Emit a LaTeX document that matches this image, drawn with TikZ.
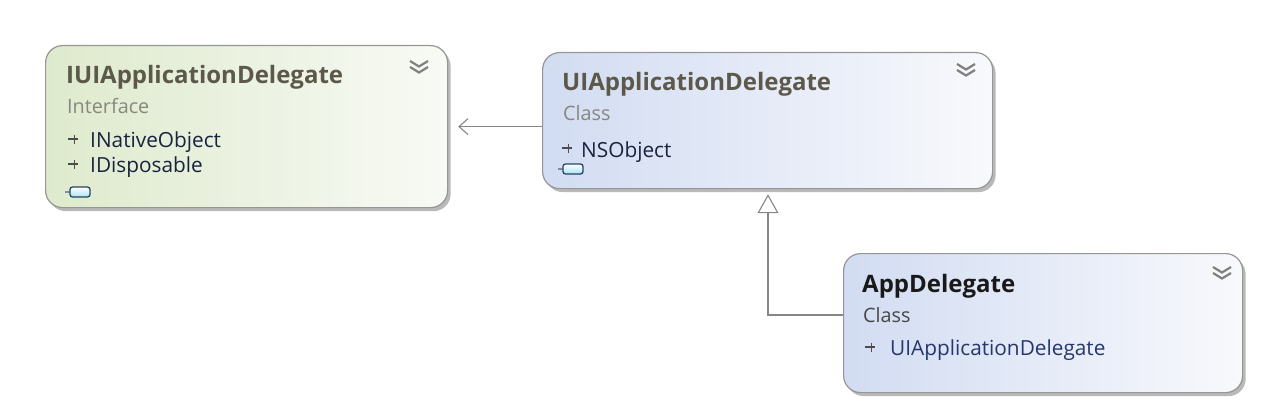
\documentclass[tikz,border=0pt]{standalone}
\usepackage{fontspec}
\setmainfont{Open Sans}
\usetikzlibrary{arrows.meta,shadows}
\definecolor{bordergray}{RGB}{150,150,150}
\definecolor{linegray}{RGB}{135,135,135}
\definecolor{titlegray}{RGB}{92,88,74}
\definecolor{kindgray}{RGB}{135,135,125}
\definecolor{membernavy}{RGB}{25,35,62}
\definecolor{appmember}{RGB}{38,55,110}
\definecolor{greenL}{RGB}{222,234,205}
\definecolor{greenR}{RGB}{248,250,245}
\definecolor{blueL}{RGB}{210,220,242}
\definecolor{blueR}{RGB}{248,249,252}
\definecolor{iconnavy}{RGB}{40,68,100}
\begin{document}
\begin{tikzpicture}[x=1pt,y=-1pt,
  box/.style={draw=bordergray, line width=1.2pt, rounded corners=17pt, inner sep=0pt, anchor=north west,
    drop shadow={shadow xshift=3pt, shadow yshift=-3.5pt, opacity=0.5, fill=black!55}},
  greenbox/.style={box, left color=greenL, right color=greenR},
  bluebox/.style={box, left color=blueL, right color=blueR},
  titletext/.style={anchor=base west, inner sep=0pt, font=\fontsize{24}{28}\selectfont\bfseries, text=titlegray},
  kindtext/.style={anchor=base west, inner sep=0pt, font=\fontsize{19.8}{23}\selectfont, text=kindgray},
  membertext/.style={anchor=base west, inner sep=0pt, font=\fontsize{20.8}{24}\selectfont, text=membernavy},
  conn/.style={draw=linegray, line width=1.1pt},
  bullet/.pic={\draw[line width=1.3pt, black!70] (0,0)--(10,0); \draw[line width=1.3pt, black!70] (6.5,-4.5)--(6.5,4.5);},
  icon/.pic={\draw[line width=1.2pt, iconnavy!60] (0,0)--(5,0);
    \draw[line width=1.3pt, draw=iconnavy, top color=white, bottom color=blueL!80!cyan, rounded corners=2.5pt] (5,-5) rectangle (25,5);},
  chevron/.pic={\draw[line width=2.2pt, black!50] (-9,-7)--(0,-1.5)--(9,-7) (-9,-1)--(0,4.5)--(9,-1);}
]
\useasboundingbox (0,0) rectangle (1287,404);

% boxes
\node[greenbox, minimum width=402pt, minimum height=162pt] (iui) at (45,45) {};
\node[bluebox, minimum width=450pt, minimum height=136pt] (ui) at (542,52) {};
\node[bluebox, minimum width=399pt, minimum height=139pt] (app) at (843,253) {};

% IUIApplicationDelegate
\node[titletext] (iuiT) at (66,83) {IUIApplicationDelegate};
\node[kindtext] (iuiK) at (67,113) {Interface};
\pic at (68,139) {bullet};
\node[membertext] (iuiM1) at (90,147) {INativeObject};
\pic at (68,164) {bullet};
\node[membertext] (iuiM2) at (90,172) {IDisposable};
\pic at (65,192) {icon};
\pic at (419,68) {chevron};

% UIApplicationDelegate
\node[titletext] (uiT) at (562,90) {UIApplicationDelegate};
\node[kindtext] (uiK) at (563,120) {Class};
\pic at (562,148) {bullet};
\node[membertext] (uiM1) at (581,157) {NSObject};
\pic at (558,169) {icon};
\pic at (966,71) {chevron};

% AppDelegate
\node[titletext, text=black!90] (appT) at (862,292) {AppDelegate};
\node[kindtext, text=black!72] (appK) at (863,322) {Class};
\pic at (865,347) {bullet};
\node[membertext, text=appmember] (appM1) at (890,355) {UIApplicationDelegate};
\pic at (1222,274) {chevron};

% connectors
\draw[conn, -{Straight Barb[length=9pt, width=16pt, line width=1.1pt]}, shorten >=10pt]
  (ui.west |- iui.east) -- (iui.east);
\coordinate (bend) at (768,315);
\draw[conn, -{Triangle[open, length=19pt, width=21pt, fill=white, line width=1.1pt]}, shorten >=5pt]
  (app.west |- bend) -- (bend) -- (bend |- ui.south);
\end{tikzpicture}
\end{document}
